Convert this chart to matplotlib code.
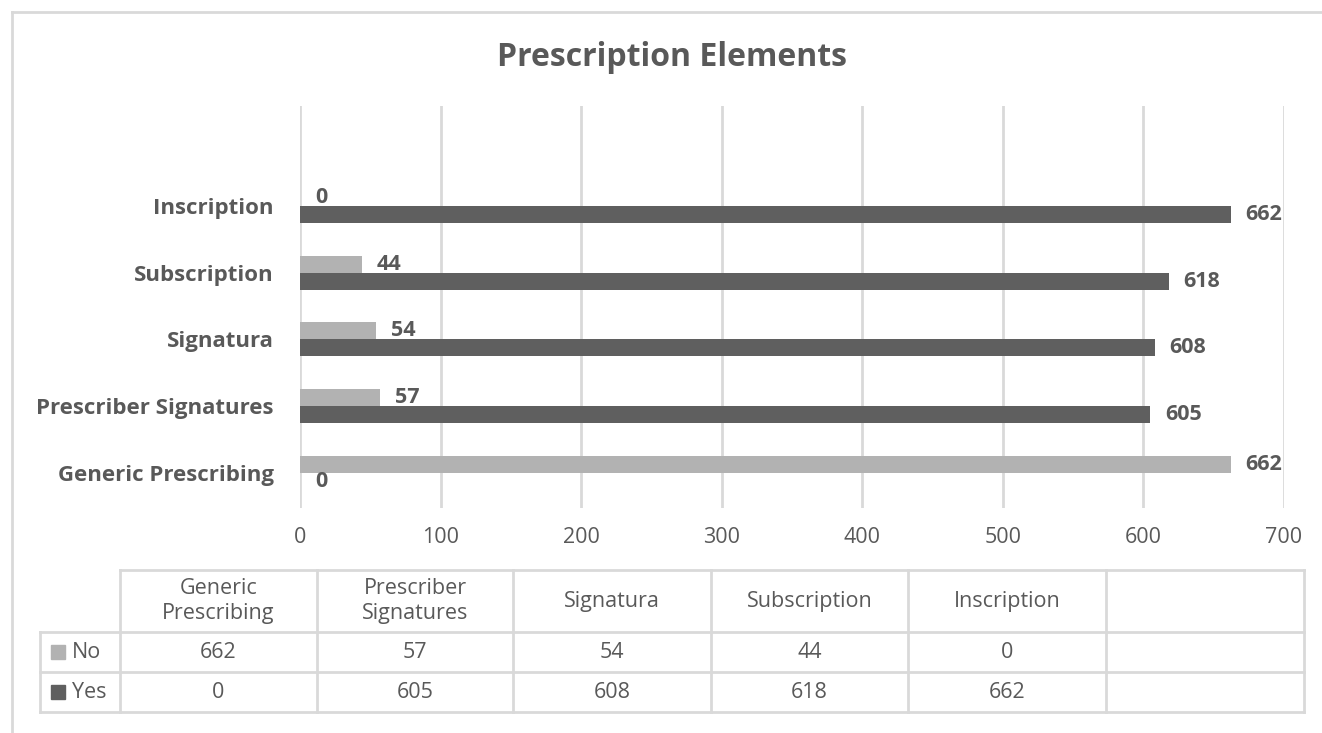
import numpy as np
import matplotlib
matplotlib.use("Agg")
import matplotlib.pyplot as plt
from matplotlib.lines import Line2D
from matplotlib.patches import Rectangle

plt.rcParams['font.family'] = ['Open Sans', 'DejaVu Sans']

# data
categories = ["Generic Prescribing", "Prescriber Signatures", "Signatura", "Subscription", "Inscription"]
table_headers = ["Generic\nPrescribing", "Prescriber\nSignatures", "Signatura", "Subscription", "Inscription"]
no_values = [662, 57, 54, 44, 0]
yes_values = [0, 605, 608, 618, 662]
series_names = ["No", "Yes"]
x_ticks = [0, 100, 200, 300, 400, 500, 600, 700]

c_no = "#b2b2b2"
c_yes = "#5f5f5f"
txt = "#595959"
grid_c = "#d9d9d9"

W, H = 1322, 733
fig = plt.figure(figsize=(W / 100, H / 100), dpi=100)

# main axes (pixel layout: x 300..1284, y 106..508)
ax = fig.add_axes([300 / W, 1 - 508 / H, 984 / W, 402 / H])
y = np.arange(len(categories))
bh = 0.255
ax.barh(y + bh / 2, no_values, height=bh, color=c_no, zorder=3)
ax.barh(y - bh / 2, yes_values, height=bh, color=c_yes, zorder=3)

for yi, v in zip(y, no_values):
    ax.annotate(str(v), (v, yi + bh / 2), xytext=(15, 0), textcoords="offset pixels",
                va="center", ha="left", fontsize=15.5, fontweight="bold", color=txt)
for yi, v in zip(y, yes_values):
    ax.annotate(str(v), (v, yi - bh / 2), xytext=(15, 0), textcoords="offset pixels",
                va="center", ha="left", fontsize=15.5, fontweight="bold", color=txt)

ax.set_xlim(0, 700)
ax.set_ylim(-0.53, 5.5)
ax.set_xticks(x_ticks)
ax.set_xticklabels([str(t) for t in x_ticks], fontsize=15.5, color=txt)
ax.set_yticks(y)
ax.set_yticklabels(categories, fontsize=16, fontweight="bold", color=txt)
ax.tick_params(length=0, pad=19, axis="y")
ax.tick_params(length=0, pad=14, axis="x")
ax.grid(axis="x", color=grid_c, linewidth=2, zorder=0)
for s in ax.spines.values():
    s.set_visible(False)

fig.text(672 / W, 1 - 57 / H, "Prescription Elements", ha="center", va="center",
         fontsize=23, fontweight="bold", color=txt)

# overlay in pixel coordinates for table and border
ov = fig.add_axes([0, 0, 1, 1], zorder=-1)
ov.set_xlim(0, W)
ov.set_ylim(H, 0)
ov.axis("off")
ov.add_line(Line2D([12, W], [12, 12], color=grid_c, lw=2))
ov.add_line(Line2D([12, 12], [12, H], color=grid_c, lw=2))

tab = fig.add_axes([0, 0, 1, 1], zorder=2)
tab.set_xlim(0, W)
tab.set_ylim(H, 0)
tab.axis("off")
tab.patch.set_alpha(0)

col_x = [120, 317, 513, 711, 908, 1106, 1304]
row_y = [570, 632, 672, 712]
lc = "#d9d9d9"
tab.add_line(Line2D([120, 1304], [row_y[0], row_y[0]], color=lc, lw=2))
for ry in row_y[1:]:
    tab.add_line(Line2D([40, 1304], [ry, ry], color=lc, lw=2))
tab.add_line(Line2D([40, 40], [row_y[1], row_y[3]], color=lc, lw=2))
for cx in col_x:
    tab.add_line(Line2D([cx, cx], [row_y[0], row_y[3]], color=lc, lw=2))

for i, h in enumerate(table_headers):
    cx = (col_x[i] + col_x[i + 1]) / 2
    tab.text(cx, (row_y[0] + row_y[1]) / 2, h, ha="center", va="center", fontsize=15.5,
             color=txt, linespacing=1.3)
for r, (name, vals, col) in enumerate(zip(series_names, [no_values, yes_values], [c_no, c_yes])):
    cy = (row_y[r + 1] + row_y[r + 2]) / 2
    tab.add_patch(Rectangle((51, cy - 7), 14, 14, color=col))
    tab.text(72, cy, name, ha="left", va="center", fontsize=15.5, color=txt)
    for i, v in enumerate(vals):
        cx = (col_x[i] + col_x[i + 1]) / 2
        tab.text(cx, cy, str(v), ha="center", va="center", fontsize=15.5, color=txt)

fig.savefig("out.png", dpi=100, facecolor="white")
